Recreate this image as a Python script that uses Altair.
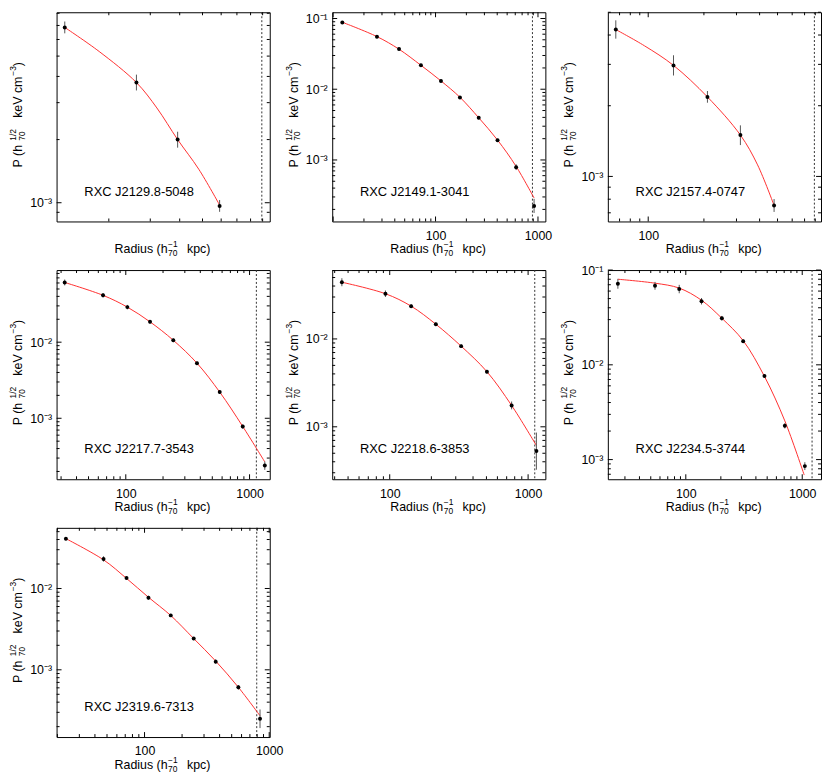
import math
import altair as alt
import pandas as pd

FONT = "Liberation Sans"
W, H = 215, 211
GAP_X, GAP_Y = 63, 49

names = ["RXC J2129.8-5048", "RXC J2149.1-3041", "RXC J2157.4-0747",
         "RXC J2217.7-3543", "RXC J2218.6-3853", "RXC J2234.5-3744",
         "RXC J2319.6-7313"]

# axis ranges (read from the frames)
xdoms = [[120, 965], [9.8, 1181], [60.5, 859], [27.6, 1456], [38.4, 1333], [21.4, 1450], [19.7, 1010]]
ydoms = [[8.14e-4, 8.09e-3], [1.35e-4, 0.1225], [6.43e-4, 5.0e-3], [1.58e-4, 0.0887],
         [2.53e-4, 0.0608], [6.2e-4, 0.1], [1.49e-4, 0.0557]]

# dashed vertical line (radius)
r_dash = [893, 883, 791, 1135, 1117, 1215, 794]

# data points: radius, pressure, lower / upper error
r1 = [130, 262, 392, 591]
p1 = [6.85e-3, 3.74e-3, 2.0e-3, 0.965e-3]
lo1 = [6.42e-3, 3.43e-3, 1.83e-3, 0.905e-3]
hi1 = [7.31e-3, 4.08e-3, 2.18e-3, 1.03e-3]

r2 = [12.3, 26.8, 44, 72, 113, 173, 264, 403, 612, 916]
p2 = [0.0879, 0.0554, 0.037, 0.0218, 0.0131, 0.00766, 0.00394, 0.0019, 0.00079, 0.000224]
lo2 = [0.0838, 0.0528, 0.0353, 0.0208, 0.0125, 0.0073, 0.00375, 0.00181, 0.00072, 0.000178]
hi2 = [0.0921, 0.0581, 0.0388, 0.0229, 0.0137, 0.0080, 0.00413, 0.00199, 0.00087, 0.000282]

r3 = [66.8, 137, 209, 315, 479]
p3 = [4.22e-3, 2.97e-3, 2.18e-3, 1.50e-3, 7.52e-4]
lo3 = [3.86e-3, 2.69e-3, 2.06e-3, 1.36e-3, 7.06e-4]
hi3 = [4.62e-3, 3.28e-3, 2.31e-3, 1.65e-3, 8.01e-4]

r4 = [32.1, 65.5, 103, 157, 242, 376, 574, 881, 1328]
p4 = [0.0609, 0.0413, 0.0289, 0.0185, 0.0106, 0.0053, 0.00221, 7.8e-4, 2.39e-4]
lo4 = [0.0557, 0.0386, 0.0270, 0.0175, 0.0100, 0.0050, 0.00209, 7.3e-4, 2.1e-4]
hi4 = [0.0666, 0.0442, 0.0309, 0.0195, 0.0112, 0.0056, 0.00234, 8.3e-4, 2.7e-4]

r5 = [45.1, 93.1, 142.8, 215.4, 328, 504, 760, 1148]
p5 = [0.0442, 0.0327, 0.0236, 0.0147, 0.00828, 0.00424, 0.00175, 5.3e-4]
lo5 = [0.0398, 0.0300, 0.0225, 0.0140, 0.0079, 0.00404, 0.00158, 3.25e-4]
hi5 = [0.0491, 0.0356, 0.0248, 0.0154, 0.0087, 0.00445, 0.00194, 8.6e-4]

r6 = [26.1, 54.4, 87.8, 136.5, 204, 311, 474, 709, 1053]
p6 = [0.0716, 0.0682, 0.063, 0.0469, 0.031, 0.01775, 0.00763, 0.00227, 8.53e-4]
lo6 = [0.0635, 0.0620, 0.0569, 0.0433, 0.0293, 0.0171, 0.00734, 0.00213, 7.75e-4]
hi6 = [0.0807, 0.0750, 0.0698, 0.0507, 0.0328, 0.0185, 0.00794, 0.00242, 9.38e-4]

r7 = [23.4, 46.9, 71.7, 107.5, 162.3, 248, 372.4, 565.7, 844]
p7 = [0.041, 0.0231, 0.01345, 0.0077, 0.00467, 0.00242, 0.00126, 6.1e-4, 2.5e-4]
lo7 = [0.0393, 0.0214, 0.0129, 0.00728, 0.00448, 0.00232, 0.00118, 5.7e-4, 1.92e-4]
hi7 = [0.0428, 0.0249, 0.0140, 0.00814, 0.00487, 0.00252, 0.00135, 6.5e-4, 3.25e-4]

# red model curves
cr1 = [130, 182, 262, 320, 392, 482, 591]
cp1 = [6.85e-3, 5.26e-3, 3.74e-3, 2.83e-3, 2.0e-3, 1.445e-3, 0.975e-3]
cr2 = [12.3, 26.8, 44, 72, 113, 173, 264, 403, 612, 916]
cp2 = [0.0885, 0.0555, 0.0368, 0.0218, 0.0131, 0.0077, 0.00395, 0.00191, 0.00081, 0.00029]
cr3 = [66.8, 95.4, 137, 209, 315, 390, 479]
cp3 = [4.22e-3, 3.6e-3, 2.97e-3, 2.18e-3, 1.5e-3, 1.12e-3, 7.52e-4]
cr4 = [32.1, 65.5, 103, 157, 242, 376, 574, 881, 1328]
cp4 = [0.0609, 0.0413, 0.0289, 0.0185, 0.0106, 0.0053, 0.00221, 7.8e-4, 2.67e-4]
cr5 = [45.1, 93.1, 142.8, 215.4, 328, 504, 760, 1148]
cp5 = [0.0442, 0.0327, 0.0236, 0.0147, 0.00828, 0.00424, 0.00175, 6.12e-4]
cr6 = [26.1, 54.4, 87.8, 136.5, 204, 311, 474, 709, 1040]
cp6 = [0.08, 0.0727, 0.0645, 0.048, 0.031, 0.018, 0.00754, 0.00256, 6.87e-4]
cr7 = [23.4, 46.9, 71.7, 107.5, 162.3, 248, 372.4, 565.7, 844]
cp7 = [0.041, 0.0225, 0.0133, 0.0078, 0.00465, 0.00242, 0.00128, 6.1e-4, 2.72e-4]

R = [r1, r2, r3, r4, r5, r6, r7]
P = [p1, p2, p3, p4, p5, p6, p7]
LO = [lo1, lo2, lo3, lo4, lo5, lo6, lo7]
HI = [hi1, hi2, hi3, hi4, hi5, hi6, hi7]
CR = [cr1, cr2, cr3, cr4, cr5, cr6, cr7]
CP = [cp1, cp2, cp3, cp4, cp5, cp6, cp7]

MAJ, MIN = 5, 3


def log_ticks(dom):
    lo, hi = dom
    major, minor = [], []
    for e in range(math.floor(math.log10(lo)), math.ceil(math.log10(hi)) + 1):
        for k in range(1, 10):
            v = float(f"{k}e{e}")
            if lo <= v <= hi:
                (major if k == 1 else minor).append(v)
    return major, minor


def one():
    return alt.Data(values=[{"k": 0}])


def text_piece(t, x, y, size, angle=0):
    kw = dict(text=t, align="left", baseline="middle", font=FONT,
              fontSize=size, color="black")
    if angle:
        kw["angle"] = angle
    return alt.Chart(one()).mark_text(**kw).encode(x=alt.value(x), y=alt.value(y))


def panel(i):
    xs = alt.Scale(type="log", domain=xdoms[i], nice=False)
    ys = alt.Scale(type="log", domain=ydoms[i], nice=False)
    xmaj, xmin = log_ticks(xdoms[i])
    ymaj, ymin = log_ticks(ydoms[i])
    xlab = [v for v in xmaj if v >= 100]

    pts = pd.DataFrame({"r": R[i], "p": P[i], "lo": LO[i], "hi": HI[i]})
    cur = pd.DataFrame({"r": CR[i], "p": CP[i]})

    xaxis = alt.Axis(values=xlab, format="d", ticks=False, domain=False, grid=False,
                     labelPadding=8, labelFontSize=12.5, labelFont=FONT,
                     labelColor="black", title=None, labelOverlap=False, labelFlush=False)
    yaxis = alt.Axis(values=ymaj, ticks=False, domain=False, grid=False,
                     labelExpr="datum.value > 0.05 ? '10⁻¹' : datum.value > 0.005 ? '10⁻²' : datum.value > 0.0005 ? '10⁻³' : '10⁻⁴'",
                     labelPadding=5, labelFontSize=12.5, labelFont=FONT,
                     labelColor="black", title=None, labelOverlap=False, labelFlush=False)

    X = lambda f: alt.X(f, scale=xs, axis=xaxis)
    Y = lambda f: alt.Y(f, scale=ys, axis=yaxis)

    layers = []
    layers.append(alt.Chart(pd.DataFrame({"r": [r_dash[i]]})).mark_rule(
        color="#333", strokeWidth=1, strokeDash=[2, 2]).encode(
        x=X("r:Q"), y=alt.value(0), y2=alt.value(H)))
    layers.append(alt.Chart(cur).mark_line(color="#ff3030", strokeWidth=1,
                                           interpolate="catmull-rom", clip=True).encode(
        x=X("r:Q"), y=Y("p:Q")))
    layers.append(alt.Chart(pts).mark_rule(color="#555", strokeWidth=1).encode(
        x=X("r:Q"), y=Y("lo:Q"), y2="hi:Q"))
    layers.append(alt.Chart(pts).mark_circle(size=16, color="black", opacity=1).encode(
        x=X("r:Q"), y=Y("p:Q")))

    for vals, ln in ((xmaj, MAJ), (xmin, MIN)):
        df = pd.DataFrame({"v": vals}, dtype=float)
        for y0, y1 in ((H, H - ln), (0, ln)):
            layers.append(alt.Chart(df).mark_rule(color="black", strokeWidth=1).encode(
                x=X("v:Q"), y=alt.value(y0), y2=alt.value(y1)))
    for vals, ln in ((ymaj, MAJ), (ymin, MIN)):
        df = pd.DataFrame({"v": vals}, dtype=float)
        for x0, x1 in ((0, ln), (W, W - ln)):
            layers.append(alt.Chart(df).mark_rule(color="black", strokeWidth=1).encode(
                y=Y("v:Q"), x=alt.value(x0), x2=alt.value(x1)))

    # cluster name
    layers.append(text_piece(names[i], 28, H - 30, 13))

    # y title: P (h_70^{1/2} keV cm^-3), rotated
    cy = H / 2
    layers.append(text_piece("P (h", -39, cy + 51, 12.5, 270))
    layers.append(text_piece("70", -35, cy + 24, 8.5, 270))
    layers.append(text_piece("1/2", -44, cy + 24, 8.5, 270))
    layers.append(text_piece("keV cm", -39, cy + 1, 12.5, 270))
    layers.append(text_piece("−3", -44, cy - 41.5, 8.5, 270))
    layers.append(text_piece(")", -39, cy - 51, 12.5, 270))

    # x title: Radius (h_70^-1 kpc)
    cx = W / 2
    layers.append(text_piece("Radius (h", cx - 49, H + 28, 12.5))
    layers.append(text_piece("70", cx + 5, H + 32, 8.5))
    layers.append(text_piece("−1", cx + 5, H + 23, 8.5))
    layers.append(text_piece("kpc)", cx + 24, H + 28, 12.5))

    return alt.layer(*layers).properties(width=W, height=H)


chart = alt.concat(*[panel(i) for i in range(7)], columns=3,
                   spacing={"row": GAP_Y, "column": GAP_X}, bounds="flush").properties(
    padding=0, background="white"
).configure_view(stroke="black", strokeWidth=1)

chart.save("out.html", embed_options={"renderer": "svg", "actions": False})
